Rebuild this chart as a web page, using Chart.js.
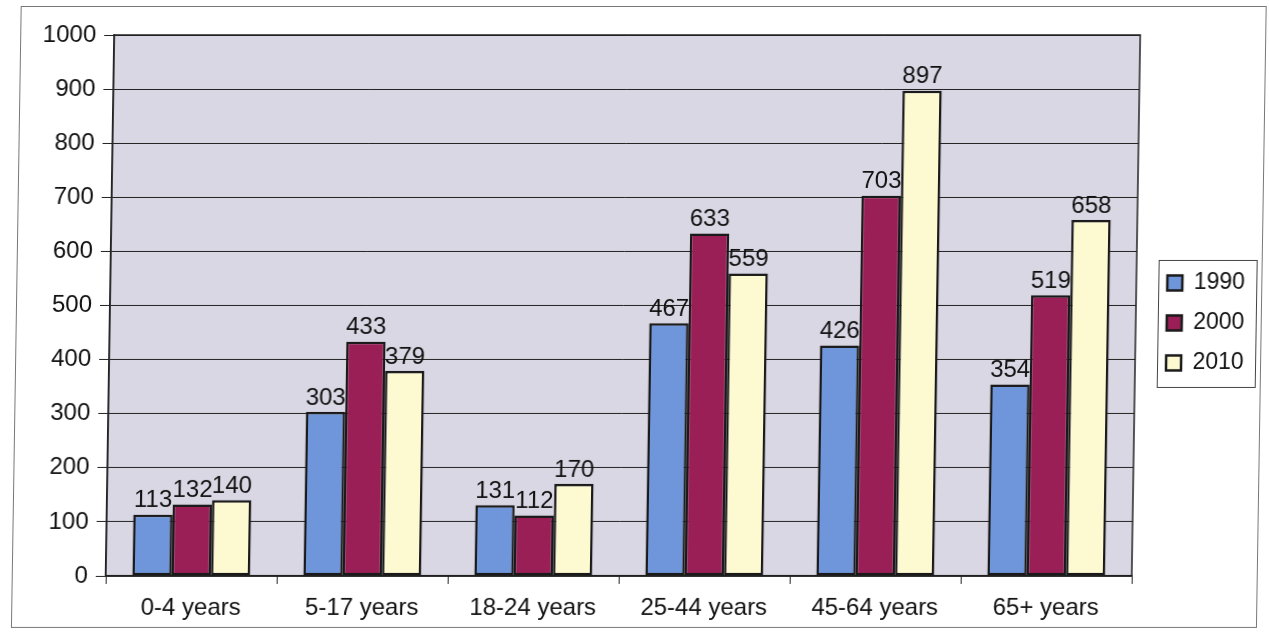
<!DOCTYPE html>
<html>
<head>
<meta charset="utf-8">
<script src="https://cdn.jsdelivr.net/npm/chart.js@4"></script>
<style>
  html, body { margin: 0; padding: 0; background: #fff; overflow: hidden; }
  #wrap { width: 1269px; height: 637px; }
  /* the scanned original leans slightly; mimic it */
  #chart { transform: skewX(-0.9deg); transform-origin: 50% 305px; }
</style>
</head>
<body>
<div id="wrap"><canvas id="chart" width="1269" height="637"></canvas></div>
<script>
var categories = ['0-4 years', '5-17 years', '18-24 years', '25-44 years', '45-64 years', '65+ years'];
var values1990 = [113, 303, 131, 467, 426, 354];
var values2000 = [132, 433, 112, 633, 703, 519];
var values2010 = [140, 379, 170, 559, 897, 658];
var seriesNames = ['1990', '2000', '2010'];
var yTicks = [0, 100, 200, 300, 400, 500, 600, 700, 800, 900, 1000];

var FONT = "'Liberation Sans', Arial, sans-serif";

// plot background, borders and value labels
var decorations = {
    id: 'decorations',
    afterLayout: function(chart) {
        var lg = chart.legend;
        lg.top -= 13;
        lg.bottom -= 13;
        lg.left += 14;
        lg.right += 14;
    },
    beforeDraw: function(chart) {
        var c = chart.ctx, a = chart.chartArea;
        c.save();
        c.fillStyle = '#ffffff';
        c.fillRect(0, 0, chart.width, chart.height);
        c.fillStyle = '#dad7e4';
        c.fillRect(a.left, a.top, a.right - a.left, a.bottom - a.top);
        c.restore();
    },
    afterDatasetsDraw: function(chart) {
        var c = chart.ctx;
        c.save();
        c.font = '24px ' + FONT;
        c.fillStyle = '#111';
        c.textAlign = 'center';
        c.textBaseline = 'bottom';
        chart.data.datasets.forEach(function(ds, i) {
            var meta = chart.getDatasetMeta(i);
            meta.data.forEach(function(bar, j) {
                c.fillText(String(ds.data[j]), bar.x, bar.y - 2);
            });
        });
        c.restore();
    },
    afterDraw: function(chart) {
        var c = chart.ctx, a = chart.chartArea;
        c.save();
        c.strokeStyle = '#222';
        c.lineWidth = 1.5;
        c.strokeRect(a.left, a.top, a.right - a.left, a.bottom - a.top);
        // legend frame
        c.lineWidth = 1;
        c.strokeStyle = '#444';
        c.strokeRect(1158.5, 260.5, 98, 127);
        // outer frame
        c.strokeStyle = '#777';
        c.strokeRect(16.5, 6.5, 1245, 621);
        c.restore();
    }
};

var ctx = document.getElementById('chart');
var colors = ['#6f96da', '#9b1f57', '#fdfad2'];
var allValues = [values1990, values2000, values2010];

var chart = new Chart(ctx, {
    type: 'bar',
    data: {
        labels: categories,
        datasets: seriesNames.map(function(name, i) {
            return {
                label: name,
                data: allValues[i],
                backgroundColor: colors[i],
                borderColor: '#1a1a1a',
                borderWidth: 2.5,
                borderSkipped: false,
                categoryPercentage: 0.69,
                barPercentage: 1.0
            };
        })
    },
    options: {
        responsive: false,
        animation: false,
        layout: { padding: { left: 0, top: 35, right: 0, bottom: 0 } },
        plugins: {
            tooltip: { enabled: false },
            legend: {
                position: 'right',
                labels: {
                    font: { family: FONT, size: 23 },
                    color: '#111',
                    boxWidth: 15,
                    boxHeight: 15,
                    padding: 17
                }
            }
        },
        scales: {
            x: {
                grid: {
                    offset: true,
                    drawOnChartArea: false,
                    drawTicks: true,
                    tickLength: 8,
                    color: '#222'
                },
                border: { color: '#222', width: 1.5 },
                ticks: {
                    font: { family: FONT, size: 24 },
                    color: '#111',
                    padding: 10,
                    maxRotation: 0
                },
                afterFit: function(scale) { scale.height = 61; }
            },
            y: {
                min: 0,
                max: 1000,
                afterBuildTicks: function(scale) {
                    scale.ticks = yTicks.map(function(v) { return { value: v }; });
                },
                grid: {
                    color: '#222',
                    lineWidth: 1,
                    tickLength: 10
                },
                border: { color: '#222', width: 1.5 },
                ticks: {
                    font: { family: FONT, size: 24 },
                    color: '#111',
                    padding: 8,
                    callback: function(v) { return String(v); }
                },
                afterFit: function(scale) { scale.width = 110; }
            }
        }
    },
    plugins: [decorations, {
        id: 'legendWidth',
        afterInit: function(chart) {
            var lg = chart.legend;
            var origFit = lg.fit;
            lg.fit = function() {
                origFit.call(this);
                this.width = 133;
            };
        }
    }]
});
</script>
</body>
</html>
